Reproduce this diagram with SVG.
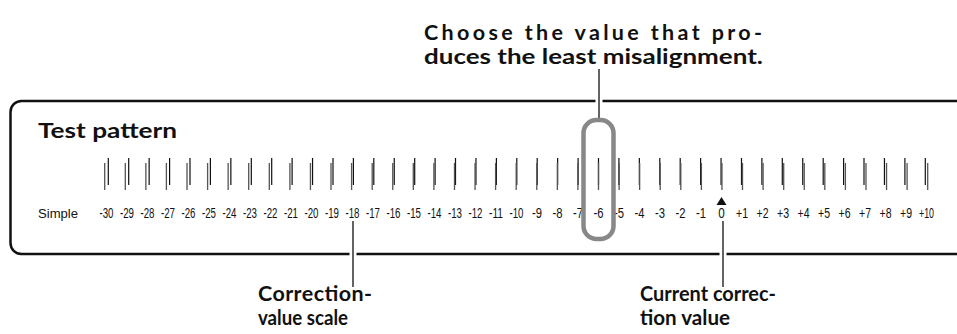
<svg xmlns="http://www.w3.org/2000/svg" width="957" height="334" viewBox="0 0 957 334">
<style>
.t{font-family:Lato,"Liberation Sans",Arial,sans-serif;font-weight:bold;font-size:21.5px;fill:#111}
.n{font-family:"Liberation Sans",Arial,sans-serif;font-size:14px;fill:#111;text-anchor:middle}
.s{font-family:"Liberation Sans",Arial,sans-serif;font-size:13.5px;fill:#111}
.lead{stroke:#111;stroke-width:1.3;fill:none}
.halo{stroke:#fff;stroke-width:7;fill:none}
</style>
<rect width="957" height="334" fill="#fff"/>
<g id="panel">
<path d="M 960 101 H 21.5 A 11 11 0 0 0 10.5 112 V 243 A 11 11 0 0 0 21.5 254 H 960" fill="none" stroke="#111" stroke-width="2.5"/>
<text class="t" x="38" y="138" textLength="139" lengthAdjust="spacingAndGlyphs">Test pattern</text>
</g>
<g id="pattern">
<path fill="none" stroke="#111" stroke-width="1.2" d="M108.3 158V185M128.7 158V185M149.15 158V185M169.6 158V185M190 158V185M210.4 158V185M230.85 158V185M251.3 158V185M271.7 158V185M292.1 158V185M312.55 158V185M333 158V185M353.4 158V185M373.8 158V185M394.25 158V185M414.7 158V185M435.1 158V185M455.5 158V185M475.95 158V185M496.4 158V185M516.8 158V185M537.2 158V185M557.65 158V185M578.1 158V185M598.5 158V185M618.9 158V185M639.35 158V185M659.8 158V185M680.2 158V185M700.6 158V185M721.05 158V185M741.5 158V185M761.9 158V185M782.3 158V185M802.75 158V185M823.2 158V185M843.6 158V185M864 158V185M884.45 158V185M904.9 158V185M925.3 158V185"/>
<path fill="none" stroke="#555" stroke-width="1.3" d="M104.7 163V190M125.3 163V190M145.85 163V190M166.4 163V190M187 163V190M207.6 163V190M228.15 163V190M248.7 163V190M269.3 163V190M289.9 163V190M310.45 163V190M331 163V190M351.6 163V190M372.2 163V190M392.75 163V190M413.3 163V190M433.9 163V190M454.5 163V190M475.05 163V190M495.6 163V190M516.2 163V190M536.8 163V190M557.35 163V190M577.9 163V190M598.5 163V190M619.1 163V190M639.65 163V190M660.2 163V190M680.8 163V190M701.4 163V190M721.95 163V190M742.5 163V190M763.1 163V190M783.7 163V190M804.25 163V190M824.8 163V190M845.4 163V190M866 163V190M886.55 163V190M907.1 163V190M927.7 163V190"/>
<text class="s" x="38" y="218" textLength="40" lengthAdjust="spacingAndGlyphs">Simple</text>
<g class="n">
<text x="106.5" y="218" textLength="14" lengthAdjust="spacingAndGlyphs">-30</text>
<text x="127" y="218" textLength="14" lengthAdjust="spacingAndGlyphs">-29</text>
<text x="147.5" y="218" textLength="14" lengthAdjust="spacingAndGlyphs">-28</text>
<text x="168" y="218" textLength="14" lengthAdjust="spacingAndGlyphs">-27</text>
<text x="188.5" y="218" textLength="14" lengthAdjust="spacingAndGlyphs">-26</text>
<text x="209" y="218" textLength="14" lengthAdjust="spacingAndGlyphs">-25</text>
<text x="229.5" y="218" textLength="14" lengthAdjust="spacingAndGlyphs">-24</text>
<text x="250" y="218" textLength="14" lengthAdjust="spacingAndGlyphs">-23</text>
<text x="270.5" y="218" textLength="14" lengthAdjust="spacingAndGlyphs">-22</text>
<text x="291" y="218" textLength="14" lengthAdjust="spacingAndGlyphs">-21</text>
<text x="311.5" y="218" textLength="14" lengthAdjust="spacingAndGlyphs">-20</text>
<text x="332" y="218" textLength="14" lengthAdjust="spacingAndGlyphs">-19</text>
<text x="352.5" y="218" textLength="14" lengthAdjust="spacingAndGlyphs">-18</text>
<text x="373" y="218" textLength="14" lengthAdjust="spacingAndGlyphs">-17</text>
<text x="393.5" y="218" textLength="14" lengthAdjust="spacingAndGlyphs">-16</text>
<text x="414" y="218" textLength="14" lengthAdjust="spacingAndGlyphs">-15</text>
<text x="434.5" y="218" textLength="14" lengthAdjust="spacingAndGlyphs">-14</text>
<text x="455" y="218" textLength="14" lengthAdjust="spacingAndGlyphs">-13</text>
<text x="475.5" y="218" textLength="14" lengthAdjust="spacingAndGlyphs">-12</text>
<text x="496" y="218" textLength="14" lengthAdjust="spacingAndGlyphs">-11</text>
<text x="516.5" y="218" textLength="14" lengthAdjust="spacingAndGlyphs">-10</text>
<text x="537" y="218" textLength="10" lengthAdjust="spacingAndGlyphs">-9</text>
<text x="557.5" y="218" textLength="10" lengthAdjust="spacingAndGlyphs">-8</text>
<text x="578" y="218" textLength="10" lengthAdjust="spacingAndGlyphs">-7</text>
<text x="598.5" y="218" textLength="10" lengthAdjust="spacingAndGlyphs">-6</text>
<text x="619" y="218" textLength="10" lengthAdjust="spacingAndGlyphs">-5</text>
<text x="639.5" y="218" textLength="10" lengthAdjust="spacingAndGlyphs">-4</text>
<text x="660" y="218" textLength="10" lengthAdjust="spacingAndGlyphs">-3</text>
<text x="680.5" y="218" textLength="10" lengthAdjust="spacingAndGlyphs">-2</text>
<text x="701" y="218" textLength="10" lengthAdjust="spacingAndGlyphs">-1</text>
<text x="721.5" y="218" textLength="6.5" lengthAdjust="spacingAndGlyphs">0</text>
<text x="742" y="218" textLength="12" lengthAdjust="spacingAndGlyphs">+1</text>
<text x="762.5" y="218" textLength="12" lengthAdjust="spacingAndGlyphs">+2</text>
<text x="783" y="218" textLength="12" lengthAdjust="spacingAndGlyphs">+3</text>
<text x="803.5" y="218" textLength="12" lengthAdjust="spacingAndGlyphs">+4</text>
<text x="824" y="218" textLength="12" lengthAdjust="spacingAndGlyphs">+5</text>
<text x="844.5" y="218" textLength="12" lengthAdjust="spacingAndGlyphs">+6</text>
<text x="865" y="218" textLength="12" lengthAdjust="spacingAndGlyphs">+7</text>
<text x="885.5" y="218" textLength="12" lengthAdjust="spacingAndGlyphs">+8</text>
<text x="906" y="218" textLength="12" lengthAdjust="spacingAndGlyphs">+9</text>
<text x="926.5" y="218" textLength="15" lengthAdjust="spacingAndGlyphs">+10</text>
</g>
<path d="M721.5 197 L726.5 205 L716.5 205 Z" fill="#111"/>
</g>
<g id="connectors">
<path class="halo" d="M599 72V115M353 225V284M723 225V284"/>
<path class="lead" d="M599 69V119M353 221V287M723 221V287"/>
</g>
<g id="highlight">
<rect x="583.5" y="120" width="30" height="119" rx="13" ry="13" fill="none" stroke="#888" stroke-width="4.5"/>
</g>
<g id="note-top">
<text class="t" x="424" y="39.5" textLength="338" lengthAdjust="spacing">Choose the value that pro-</text>
<text class="t" x="424" y="63.5" textLength="339" lengthAdjust="spacingAndGlyphs">duces the least misalignment.</text>
</g>
<g id="note-scale">
<text class="t" x="258" y="301" textLength="114" lengthAdjust="spacing">Correction-</text>
<text class="t" x="258" y="325" textLength="90" lengthAdjust="spacingAndGlyphs">value scale</text>
</g>
<g id="note-current">
<text class="t" x="640" y="301" textLength="136" lengthAdjust="spacingAndGlyphs">Current correc-</text>
<text class="t" x="640" y="325" textLength="90" lengthAdjust="spacingAndGlyphs">tion value</text>
</g>
</svg>
